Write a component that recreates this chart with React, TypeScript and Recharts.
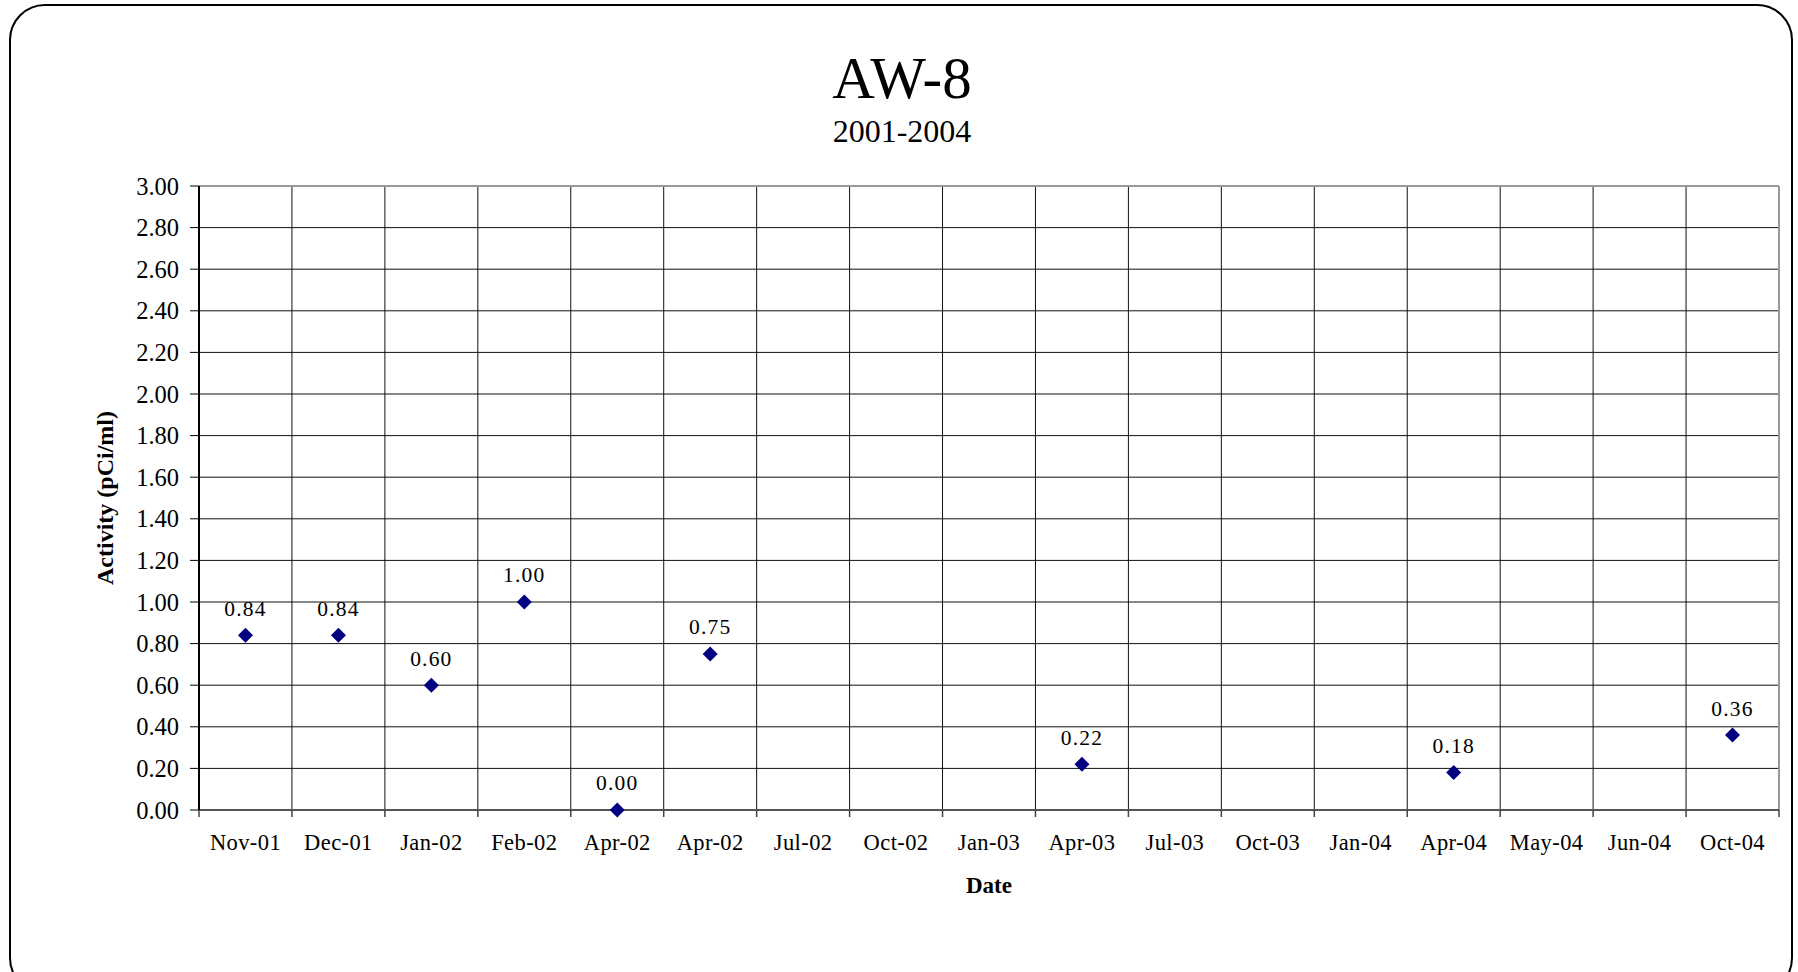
import {
  ScatterChart,
  Scatter,
  XAxis,
  YAxis,
  CartesianGrid,
  LabelList,
  ReferenceLine,
} from "recharts";

const dates = [
  "Nov-01", "Dec-01", "Jan-02", "Feb-02", "Apr-02", "Apr-02", "Jul-02", "Oct-02", "Jan-03",
  "Apr-03", "Jul-03", "Oct-03", "Jan-04", "Apr-04", "May-04", "Jun-04", "Oct-04",
];
const activity: (number | null)[] = [
  0.84, 0.84, 0.6, 1.0, 0.0, 0.75, null, null, null, 0.22, null, null, null, 0.18, null, null, 0.36,
];
const yTicks = [0, 0.2, 0.4, 0.6, 0.8, 1.0, 1.2, 1.4, 1.6, 1.8, 2.0, 2.2, 2.4, 2.6, 2.8, 3.0];

const points = dates
  .map((date, i) => ({ x: i + 0.5, date, value: activity[i] }))
  .filter((p) => p.value !== null);
const boundaries = Array.from({ length: dates.length + 1 }, (_, i) => i);

const W = 1798;
const H = 972;
const margin = { top: 186, right: 19, bottom: 62, left: 0 };
const yAxisW = 199;
const band = (W - margin.right - margin.left - yAxisW) / dates.length;
const serif = "'Liberation Serif', 'Times New Roman', serif";

function Diamond(props: any) {
  const { cx, cy } = props;
  const r = 7.5;
  return (
    <path
      d={`M${cx},${cy - r}L${cx + r},${cy}L${cx},${cy + r}L${cx - r},${cy}Z`}
      fill="#000080"
    />
  );
}

export default function App() {
  return (
    <div
      style={{
        position: "absolute",
        left: 0,
        top: 0,
        width: W,
        height: H,
        overflow: "hidden",
        background: "#fff",
        fontFamily: serif,
      }}
    >
      <div
        style={{
          position: "absolute",
          left: 9,
          top: 4,
          width: 1784,
          height: 990,
          border: "2px solid #000",
          borderRadius: 36,
          boxSizing: "border-box",
        }}
      />
      <div
        style={{
          position: "absolute",
          left: 0,
          width: 1804,
          top: 49,
          textAlign: "center",
          fontSize: 59,
          lineHeight: "59px",
        }}
      >
        AW-8
      </div>
      <div
        style={{
          position: "absolute",
          left: 0,
          width: 1804,
          top: 115,
          textAlign: "center",
          fontSize: 32,
          lineHeight: "32px",
        }}
      >
        2001-2004
      </div>
      <div style={{ position: "absolute", left: 0, top: 0 }}>
        <ScatterChart width={W} height={H} margin={margin}>
          <CartesianGrid stroke="#111" strokeWidth={1} />
          <XAxis
            dataKey="x"
            type="number"
            domain={[0, dates.length]}
            ticks={boundaries}
            interval={0}
            height={100}
            tickFormatter={(v) => dates[v] ?? ""}
            tick={{ dx: band / 2, fill: "#000", fontSize: 22.5, fontFamily: serif, letterSpacing: 0.4 }}
            tickSize={7}
            tickMargin={17}
            tickLine={{ stroke: "#444", strokeWidth: 1.5 }}
            axisLine={{ stroke: "#555", strokeWidth: 2 }}
            label={{
              value: "Date",
              position: "insideBottom",
              offset: 17,
              fill: "#000",
              fontSize: 23,
              fontWeight: "bold",
              fontFamily: serif,
            }}
          />
          <YAxis
            dataKey="value"
            type="number"
            domain={[0, 3]}
            ticks={yTicks}
            interval={0}
            width={yAxisW}
            tickFormatter={(v) => Number(v).toFixed(2)}
            tick={{ fill: "#000", fontSize: 24.5, fontFamily: serif }}
            tickSize={9}
            tickMargin={11}
            tickLine={{ stroke: "#000", strokeWidth: 1 }}
            axisLine={{ stroke: "#000", strokeWidth: 2 }}
            label={{
              value: "Activity (pCi/ml)",
              angle: -90,
              position: "insideLeft",
              offset: 104,
              fill: "#000",
              fontSize: 24,
              fontWeight: "bold",
              fontFamily: serif,
              style: { textAnchor: "middle" },
            }}
          />
          <ReferenceLine y={3} stroke="#999" strokeWidth={2} />
          <ReferenceLine x={dates.length} stroke="#999" strokeWidth={2} />
          <Scatter data={points} shape={<Diamond />} isAnimationActive={false}>
            <LabelList
              dataKey="value"
              position="top"
              offset={15}
              formatter={(v: any) => Number(v).toFixed(2)}
              fill="#000"
              fontSize={21.5}
              fontFamily={serif}
              letterSpacing={1.2}
            />
          </Scatter>
        </ScatterChart>
      </div>
    </div>
  );
}
